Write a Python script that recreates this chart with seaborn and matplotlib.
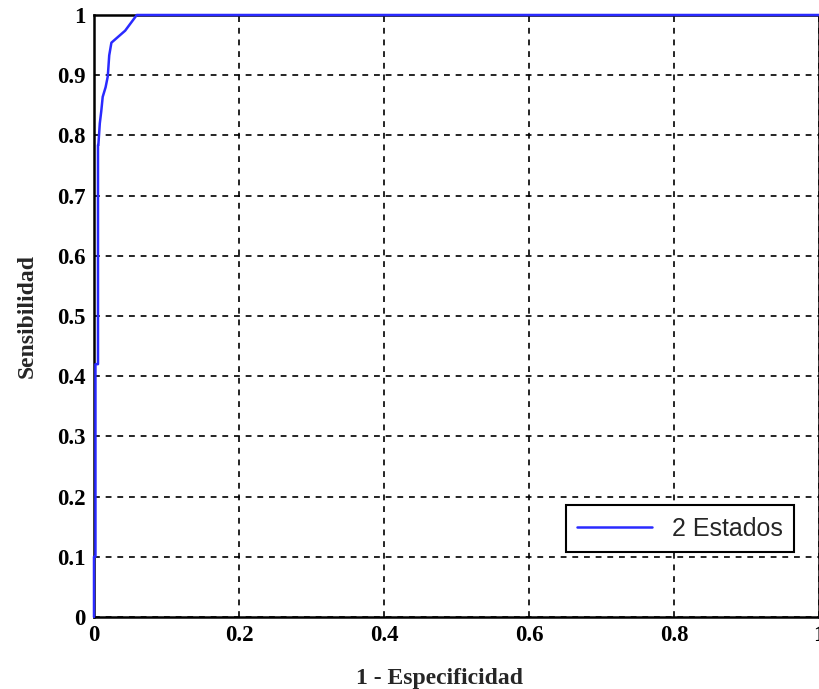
import matplotlib
matplotlib.use("Agg")
import matplotlib.pyplot as plt
import seaborn as sns
import pandas as pd

# ROC curve points
fpr = [0.0, 0.0, 0.002, 0.002, 0.0055, 0.0055, 0.006, 0.008, 0.010, 0.012, 0.016, 0.019, 0.021, 0.024, 0.043, 0.059, 1.0]
tpr = [0.0, 0.1, 0.1, 0.42, 0.42, 0.784, 0.784, 0.82, 0.84, 0.864, 0.88, 0.898, 0.933, 0.954, 0.974, 1.0, 1.0]
series_name = "2 Estados"
xticks = [0, 0.2, 0.4, 0.6, 0.8, 1]
xticklabels = ["0", "0.2", "0.4", "0.6", "0.8", "1"]
yticks = [0, 0.1, 0.2, 0.3, 0.4, 0.5, 0.6, 0.7, 0.8, 0.9, 1]
yticklabels = ["0", "0.1", "0.2", "0.3", "0.4", "0.5", "0.6", "0.7", "0.8", "0.9", "1"]

df = pd.DataFrame({"fpr": fpr, "tpr": tpr, "Modelo": series_name})

sns.set_style("white")
plt.rcParams['font.family'] = ['Liberation Serif', 'DejaVu Serif']

fig = plt.figure(figsize=(8.19, 6.89), dpi=100)
ax = fig.add_axes([94/819, 72/689, 725/819, 602/689])

sns.lineplot(data=df, x="fpr", y="tpr", hue="Modelo", palette=["#2a2aff"],
             sort=False, estimator=None, linewidth=1.8, ax=ax, zorder=5, clip_on=False)

ax.set_xlim(0, 1)
ax.set_ylim(0, 1)
ax.set_xticks(xticks)
ax.set_xticklabels(xticklabels)
ax.set_yticks(yticks)
ax.set_yticklabels(yticklabels)
ax.grid(True, color="black", linestyle=(0, (3.5, 3.5)), linewidth=1.2)
ax.tick_params(direction="in", length=5, width=1.2, colors="black", labelsize=16.5, pad=6)
for lab in ax.get_xticklabels() + ax.get_yticklabels():
    lab.set_fontweight("bold")
for s in ax.spines.values():
    s.set_color("black")
    s.set_linewidth(1.8)

ax.set_xlabel("1 - Especificidad", fontsize=17, fontweight="bold", labelpad=14)
ax.set_ylabel("Sensibilidad", fontsize=17, fontweight="bold", labelpad=14)
ax.xaxis.set_label_coords(0.476, -0.085)
ax.xaxis.label.set_va("top")

leg = ax.legend(loc="lower right", bbox_to_anchor=(0.9655, 0.108), borderaxespad=0,
                fancybox=False, framealpha=1, edgecolor="black", handlelength=3.0,
                prop={"family": "Liberation Sans", "size": 18}, borderpad=0.45)
leg.get_frame().set_linewidth(1.5)

fig.savefig("out.png", dpi=100)
